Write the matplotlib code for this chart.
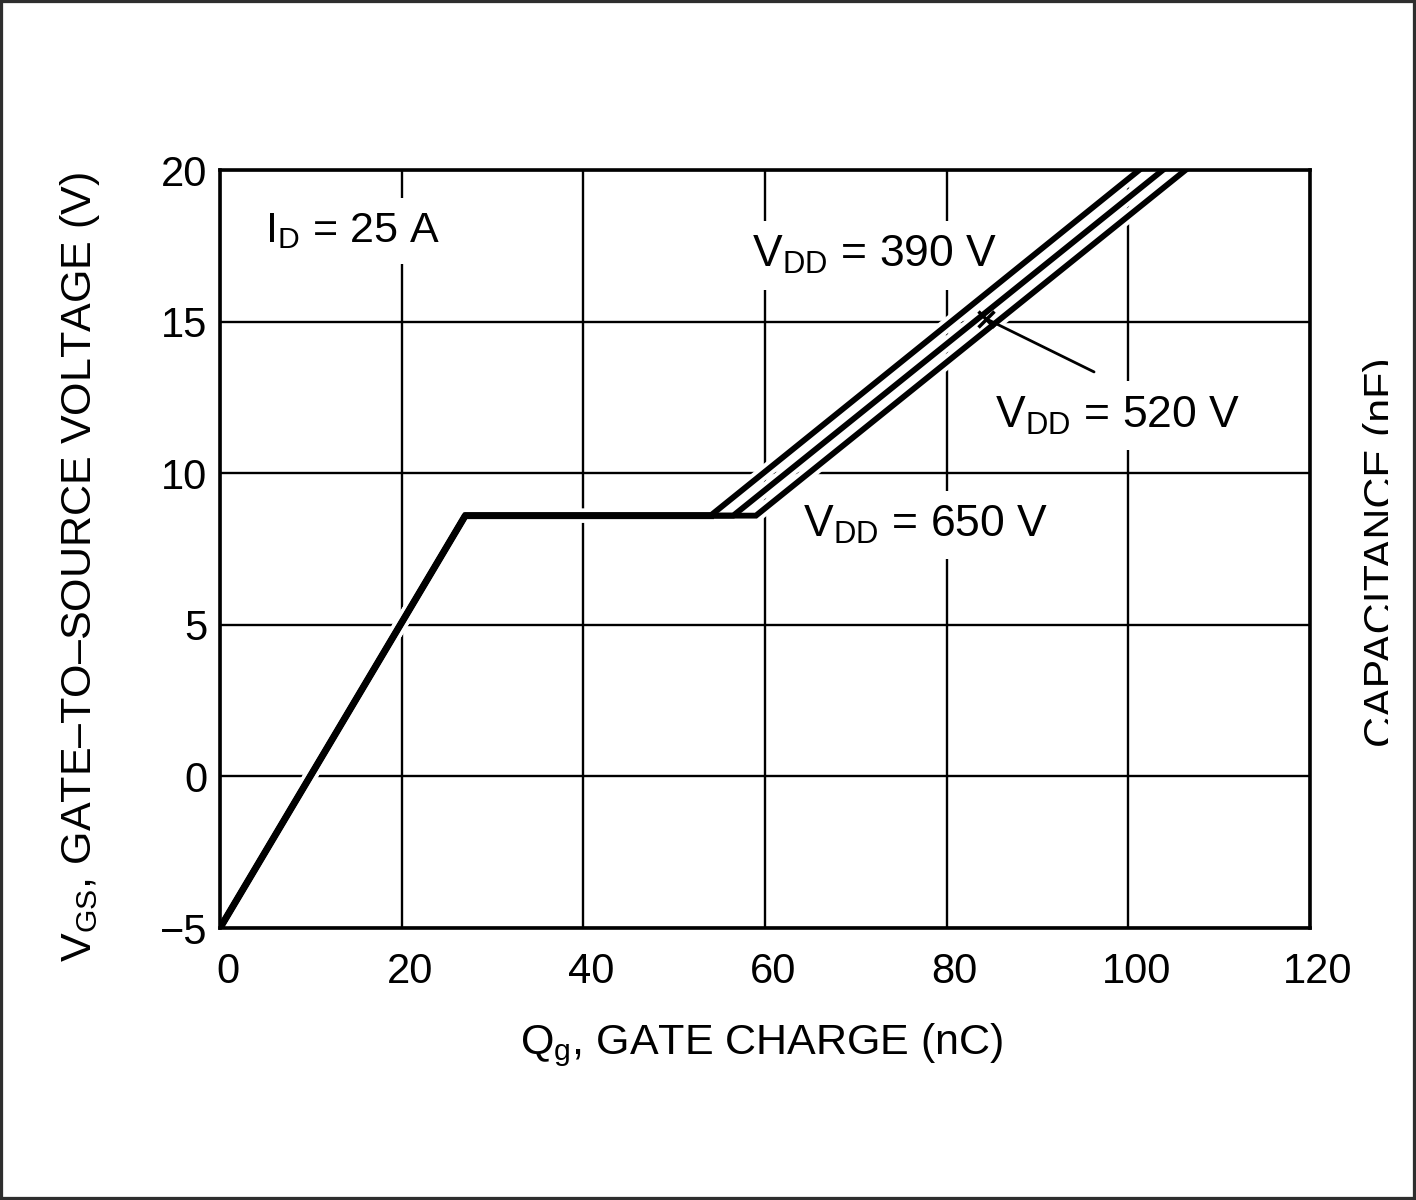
import matplotlib
matplotlib.use('Agg')
import matplotlib.pyplot as plt
from matplotlib.patches import Rectangle
from matplotlib.transforms import ScaledTranslation

plt.rcParams['font.family'] = ['Liberation Sans', 'DejaVu Sans']
plt.rcParams['mathtext.fontset'] = 'custom'
plt.rcParams['mathtext.rm'] = 'Liberation Sans'
plt.rcParams['mathtext.it'] = 'Liberation Sans'

# gate charge curves, one per V_DD
qg_390 = [0, 27, 54, 101.2]
qg_520 = [0, 27, 56.5, 103.8]
qg_650 = [0, 27, 59, 106.3]
vgs = [-5, 8.6, 8.6, 20]

xticks = [0, 20, 40, 60, 80, 100, 120]
yticks = [-5, 0, 5, 10, 15, 20]

W, H = 1416, 1200
fig = plt.figure(figsize=(W / 100, H / 100), dpi=100)
ax = fig.add_axes([220 / W, (H - 928) / H, 1090 / W, 758 / H])

ax.set_xlim(0, 120)
ax.set_ylim(-5, 20)
ax.set_xticks(xticks)
ax.set_yticks(yticks)
ax.grid(True, color='black', lw=1.7, zorder=0)
ax.set_axisbelow(True)
for s in ax.spines.values():
    s.set_linewidth(2.6)
ax.tick_params(length=0, labelsize=30, pad=9)
ax.tick_params(axis='x', pad=17)
for lab in ax.get_xticklabels():
    lab.set_transform(lab.get_transform() + ScaledTranslation(8 / 100, 0, fig.dpi_scale_trans))

# white casing under each curve so the grid breaks around them
for qg in [qg_650, qg_520, qg_390]:
    ax.plot(qg, vgs, color='white', lw=10, solid_capstyle='butt', zorder=2)
    ax.plot(qg, vgs, color='black', lw=4.2, solid_joinstyle='miter', zorder=3)
# common first part is drawn a bit heavier
ax.plot(qg_390[:3], vgs[:3], color='black', lw=5, zorder=4)

# pointer to the 520 V curve
ax.plot([84.3], [15.1], marker='x', ms=12, mew=2.5, color='black', zorder=5)
ax.annotate('', xy=(84.3, 15.1), xytext=(96.5, 13.3),
            arrowprops=dict(arrowstyle='-', lw=2, color='black'), zorder=5)

box = dict(boxstyle='square,pad=0.3', fc='white', ec='none')
ax.text(5, 17.63, r'$\mathregular{I_D}$ = 25 A', fontsize=31, va='baseline', bbox=box, zorder=1)
ax.text(58.6, 16.8, r'$\mathregular{V_{DD}}$ = 390 V', fontsize=32, va='baseline', bbox=box, zorder=1)
ax.text(85.3, 11.5, r'$\mathregular{V_{DD}}$ = 520 V', fontsize=32, va='baseline', bbox=box, zorder=1)
ax.text(64.2, 7.9, r'$\mathregular{V_{DD}}$ = 650 V', fontsize=32, va='baseline', bbox=box, zorder=1)

fig.text(762 / W, 1 - 1045 / H, r'$\mathregular{Q_g}$, GATE CHARGE (nC)', fontsize=31,
         ha='center', va='center')
fig.text(80 / W, 1 - 567 / H, r'$\mathregular{V_{GS}}$, GATE–TO–SOURCE VOLTAGE (V)', fontsize=31,
         rotation=90, ha='center', va='center')

# right axis title that is cut off by the crop
cax = fig.add_axes([1340 / W, 0, (1388 - 1340) / W, 1])
cax.axis('off')
cax.set_xlim(1340, 1388)
cax.set_ylim(H, 0)
cax.text(1383, 552, 'CAPACITANCE (nF)', fontsize=31, rotation=90,
         ha='center', va='center', clip_on=True)

fig.patches.append(Rectangle((0, 0), 1, 1, transform=fig.transFigure, fill=False,
                             ec='#2e2e2e', lw=4.5, zorder=10))

fig.savefig('out.png', dpi=100, facecolor='white')
